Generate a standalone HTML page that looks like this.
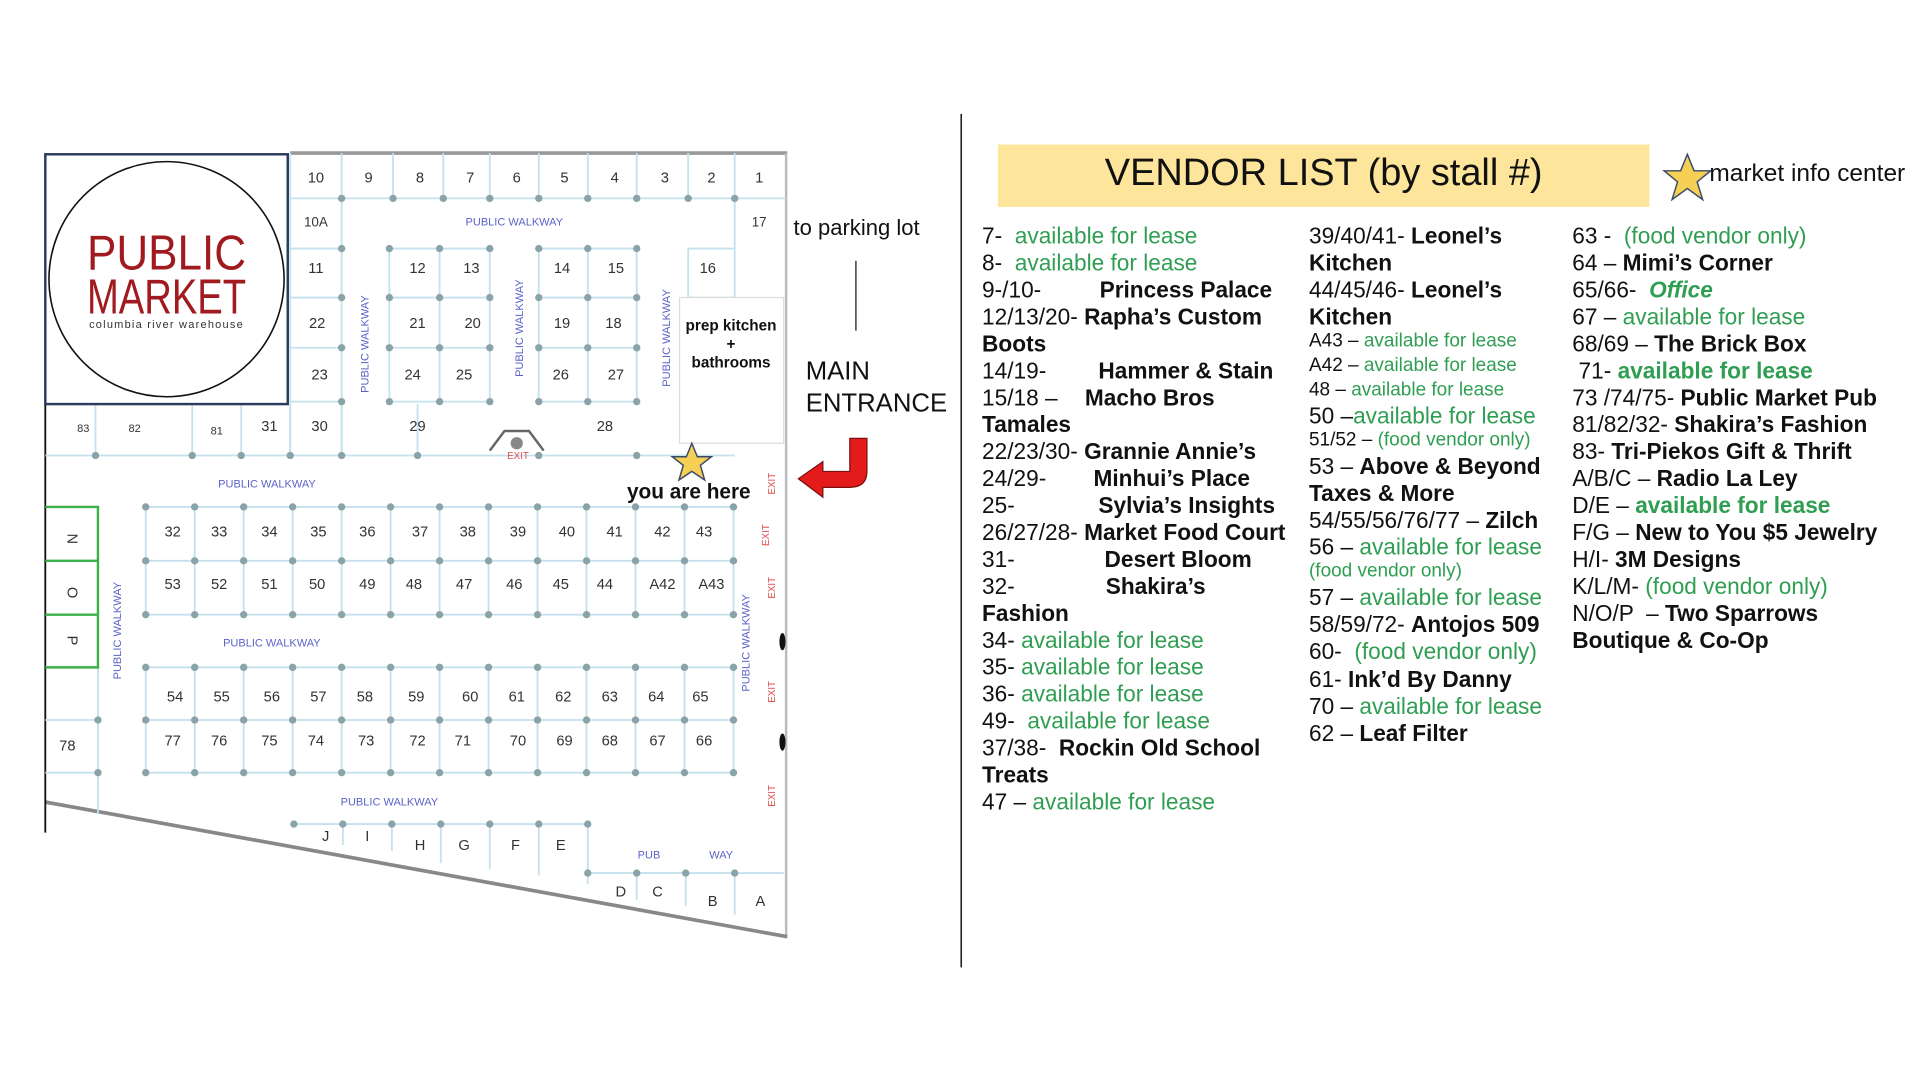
<!DOCTYPE html>
<html><head><meta charset="utf-8"><style>
body{margin:0;width:1920px;height:1080px;overflow:hidden;background:#fff}
#w{position:absolute;left:0;top:0;width:1568px;height:882px;transform:scale(1.22449);transform-origin:0 0;font-family:"Liberation Sans",sans-serif}
.t{position:absolute;white-space:pre;font-size:18.5px;line-height:22px;color:#111}
.s{font-size:15.5px}
.g{color:#2f9e52}
b{font-weight:bold}
</style></head><body><div id="w">
<svg width="1568" height="882" style="position:absolute;left:0;top:0" font-family="Liberation Sans, sans-serif">
<!-- outer walls -->
<line x1="237" y1="125" x2="643" y2="125" stroke="#999" stroke-width="3"/>
<line x1="642" y1="125" x2="642" y2="765" stroke="#bbb" stroke-width="2"/>
<line x1="37" y1="655" x2="643" y2="765" stroke="#888" stroke-width="3"/>
<line x1="37" y1="330" x2="37" y2="680" stroke="#111" stroke-width="1.5"/>
<g stroke="#c3e1ee" stroke-width="1.5" fill="none">
<!-- top row -->
<line x1="237" y1="162" x2="642" y2="162"/>
<path d="M279 125V162M321 125V162M362 125V162M400 125V162M440 125V162M480 125V162M520 125V162M562 125V162M600 125V162"/>
<path d="M237 125V372M279 162V372"/>
<path d="M237 203H279M237 243H279M237 284H279M237 328H279"/>
<path d="M318 203H400M318 243H400M318 284H400M318 328H400M318 203V328M359 203V328M400 203V328"/>
<path d="M440 203H520M440 243H520M440 284H520M440 328H520M440 203V328M480 203V328M520 203V328"/>
<path d="M562 203H600M562 243H600M562 203V243M600 162V243"/>
<path d="M37 372H600M78 330V372M157 330V372M197 330V372M237 330V372M279 330V372M341 330V372"/>
<!-- middle blocks -->
<path d="M119 414H599M119 458H599M119 502H599M119 545H599M119 588H599M119 631H599"/>
<path d="M119 414V502M159 414V502M199 414V502M239 414V502M279 414V502M319 414V502M359 414V502M399 414V502M439 414V502M479 414V502M519 414V502M559 414V502M599 414V502"/>
<path d="M119 545V631M159 545V631M199 545V631M239 545V631M279 545V631M319 545V631M359 545V631M399 545V631M439 545V631M479 545V631M519 545V631M559 545V631M599 545V631"/>
<path d="M37 588H80M37 631H80M80 545V665"/>
<path d="M240 673H480M280 673V690M320 673V695M360 673V705M400 673V710M440 673V715M480 673V722M480 713H640M520 713V735M560 713V740M600 713V747"/>
</g>
<g fill="#8aa3a8">
<circle cx="279" cy="162" r="3"/><circle cx="321" cy="162" r="3"/><circle cx="362" cy="162" r="3"/><circle cx="400" cy="162" r="3"/><circle cx="440" cy="162" r="3"/><circle cx="480" cy="162" r="3"/><circle cx="520" cy="162" r="3"/><circle cx="562" cy="162" r="3"/><circle cx="600" cy="162" r="3"/>
<circle cx="279" cy="203" r="3"/><circle cx="318" cy="203" r="3"/><circle cx="359" cy="203" r="3"/><circle cx="400" cy="203" r="3"/><circle cx="440" cy="203" r="3"/><circle cx="480" cy="203" r="3"/><circle cx="520" cy="203" r="3"/>
<circle cx="279" cy="243" r="3"/><circle cx="318" cy="243" r="3"/><circle cx="359" cy="243" r="3"/><circle cx="400" cy="243" r="3"/><circle cx="440" cy="243" r="3"/><circle cx="480" cy="243" r="3"/><circle cx="520" cy="243" r="3"/>
<circle cx="279" cy="284" r="3"/><circle cx="318" cy="284" r="3"/><circle cx="359" cy="284" r="3"/><circle cx="400" cy="284" r="3"/><circle cx="440" cy="284" r="3"/><circle cx="480" cy="284" r="3"/><circle cx="520" cy="284" r="3"/>
<circle cx="279" cy="328" r="3"/><circle cx="318" cy="328" r="3"/><circle cx="359" cy="328" r="3"/><circle cx="400" cy="328" r="3"/><circle cx="440" cy="328" r="3"/><circle cx="480" cy="328" r="3"/><circle cx="520" cy="328" r="3"/>
<circle cx="78" cy="372" r="3"/><circle cx="157" cy="372" r="3"/><circle cx="197" cy="372" r="3"/><circle cx="237" cy="372" r="3"/><circle cx="279" cy="372" r="3"/><circle cx="341" cy="372" r="3"/><circle cx="440" cy="372" r="3"/><circle cx="520" cy="372" r="3"/>
</g>
<g fill="#8aa3a8" id="dots">
<circle cx="119" cy="414" r="3"/><circle cx="159" cy="414" r="3"/><circle cx="199" cy="414" r="3"/><circle cx="239" cy="414" r="3"/><circle cx="279" cy="414" r="3"/><circle cx="319" cy="414" r="3"/><circle cx="359" cy="414" r="3"/><circle cx="399" cy="414" r="3"/><circle cx="439" cy="414" r="3"/><circle cx="479" cy="414" r="3"/><circle cx="519" cy="414" r="3"/><circle cx="559" cy="414" r="3"/><circle cx="599" cy="414" r="3"/>
<circle cx="119" cy="458" r="3"/><circle cx="159" cy="458" r="3"/><circle cx="199" cy="458" r="3"/><circle cx="239" cy="458" r="3"/><circle cx="279" cy="458" r="3"/><circle cx="319" cy="458" r="3"/><circle cx="359" cy="458" r="3"/><circle cx="399" cy="458" r="3"/><circle cx="439" cy="458" r="3"/><circle cx="479" cy="458" r="3"/><circle cx="519" cy="458" r="3"/><circle cx="559" cy="458" r="3"/><circle cx="599" cy="458" r="3"/>
<circle cx="119" cy="502" r="3"/><circle cx="159" cy="502" r="3"/><circle cx="199" cy="502" r="3"/><circle cx="239" cy="502" r="3"/><circle cx="279" cy="502" r="3"/><circle cx="319" cy="502" r="3"/><circle cx="359" cy="502" r="3"/><circle cx="399" cy="502" r="3"/><circle cx="439" cy="502" r="3"/><circle cx="479" cy="502" r="3"/><circle cx="519" cy="502" r="3"/><circle cx="559" cy="502" r="3"/><circle cx="599" cy="502" r="3"/>
<circle cx="119" cy="545" r="3"/><circle cx="159" cy="545" r="3"/><circle cx="199" cy="545" r="3"/><circle cx="239" cy="545" r="3"/><circle cx="279" cy="545" r="3"/><circle cx="319" cy="545" r="3"/><circle cx="359" cy="545" r="3"/><circle cx="399" cy="545" r="3"/><circle cx="439" cy="545" r="3"/><circle cx="479" cy="545" r="3"/><circle cx="519" cy="545" r="3"/><circle cx="559" cy="545" r="3"/><circle cx="599" cy="545" r="3"/>
<circle cx="119" cy="588" r="3"/><circle cx="159" cy="588" r="3"/><circle cx="199" cy="588" r="3"/><circle cx="239" cy="588" r="3"/><circle cx="279" cy="588" r="3"/><circle cx="319" cy="588" r="3"/><circle cx="359" cy="588" r="3"/><circle cx="399" cy="588" r="3"/><circle cx="439" cy="588" r="3"/><circle cx="479" cy="588" r="3"/><circle cx="519" cy="588" r="3"/><circle cx="559" cy="588" r="3"/><circle cx="599" cy="588" r="3"/>
<circle cx="119" cy="631" r="3"/><circle cx="159" cy="631" r="3"/><circle cx="199" cy="631" r="3"/><circle cx="239" cy="631" r="3"/><circle cx="279" cy="631" r="3"/><circle cx="319" cy="631" r="3"/><circle cx="359" cy="631" r="3"/><circle cx="399" cy="631" r="3"/><circle cx="439" cy="631" r="3"/><circle cx="479" cy="631" r="3"/><circle cx="519" cy="631" r="3"/><circle cx="559" cy="631" r="3"/><circle cx="599" cy="631" r="3"/>
<circle cx="80" cy="588" r="3"/><circle cx="80" cy="631" r="3"/>
<circle cx="240" cy="673" r="3"/><circle cx="280" cy="673" r="3"/><circle cx="320" cy="673" r="3"/><circle cx="360" cy="673" r="3"/><circle cx="400" cy="673" r="3"/><circle cx="440" cy="673" r="3"/><circle cx="480" cy="673" r="3"/>
<circle cx="480" cy="713" r="3"/><circle cx="520" cy="713" r="3"/><circle cx="560" cy="713" r="3"/><circle cx="600" cy="713" r="3"/>
</g>
<!-- green NOP box -->
<path d="M37 414H80V545H37M37 458H80M37 502H80" stroke="#3cb04a" stroke-width="2" fill="none"/>
<!-- prep kitchen -->
<rect x="555" y="243" width="85" height="119" fill="#fff" stroke="#ddd"/>
<!-- logo -->
<rect x="37" y="126" width="198" height="204" fill="#fff" stroke="#2b3b5c" stroke-width="2"/>
<ellipse cx="136" cy="228" rx="96" ry="96" fill="none" stroke="#111" stroke-width="1.3"/>
<text x="136" y="220" text-anchor="middle" font-size="40" fill="#a11a1f" textLength="130" lengthAdjust="spacingAndGlyphs">PUBLIC</text>
<text x="136" y="256" text-anchor="middle" font-size="40" fill="#a11a1f" textLength="130" lengthAdjust="spacingAndGlyphs">MARKET</text>
<text x="136" y="268" text-anchor="middle" font-size="9" fill="#333" letter-spacing="1">columbia river warehouse</text>
<!-- numbers -->
<g font-size="12" fill="#333" text-anchor="middle">
<text x="258" y="149">10</text><text x="301" y="149">9</text><text x="343" y="149">8</text><text x="384" y="149">7</text><text x="422" y="149">6</text><text x="461" y="149">5</text><text x="502" y="149">4</text><text x="543" y="149">3</text><text x="581" y="149">2</text><text x="620" y="149">1</text>
<text x="258" y="185" font-size="11">10A</text><text x="620" y="185" font-size="11">17</text>
<text x="258" y="223">11</text><text x="341" y="223">12</text><text x="385" y="223">13</text><text x="459" y="223">14</text><text x="503" y="223">15</text><text x="578" y="223">16</text>
<text x="259" y="268">22</text><text x="341" y="268">21</text><text x="386" y="268">20</text><text x="459" y="268">19</text><text x="501" y="268">18</text>
<text x="261" y="310">23</text><text x="337" y="310">24</text><text x="379" y="310">25</text><text x="458" y="310">26</text><text x="503" y="310">27</text>
<text x="68" y="353" font-size="9">83</text><text x="110" y="353" font-size="9">82</text><text x="177" y="355" font-size="9">81</text><text x="220" y="352">31</text><text x="261" y="352">30</text><text x="341" y="352">29</text><text x="494" y="352">28</text>
<text x="141" y="438">32</text><text x="179" y="438">33</text><text x="220" y="438">34</text><text x="260" y="438">35</text><text x="300" y="438">36</text><text x="343" y="438">37</text><text x="382" y="438">38</text><text x="423" y="438">39</text><text x="463" y="438">40</text><text x="502" y="438">41</text><text x="541" y="438">42</text><text x="575" y="438">43</text>
<text x="141" y="481">53</text><text x="179" y="481">52</text><text x="220" y="481">51</text><text x="259" y="481">50</text><text x="300" y="481">49</text><text x="338" y="481">48</text><text x="379" y="481">47</text><text x="420" y="481">46</text><text x="458" y="481">45</text><text x="494" y="481">44</text><text x="541" y="481">A42</text><text x="581" y="481">A43</text>
<text x="143" y="573">54</text><text x="181" y="573">55</text><text x="222" y="573">56</text><text x="260" y="573">57</text><text x="298" y="573">58</text><text x="340" y="573">59</text><text x="384" y="573">60</text><text x="422" y="573">61</text><text x="460" y="573">62</text><text x="498" y="573">63</text><text x="536" y="573">64</text><text x="572" y="573">65</text>
<text x="141" y="609">77</text><text x="179" y="609">76</text><text x="220" y="609">75</text><text x="258" y="609">74</text><text x="299" y="609">73</text><text x="341" y="609">72</text><text x="378" y="609">71</text><text x="423" y="609">70</text><text x="461" y="609">69</text><text x="498" y="609">68</text><text x="537" y="609">67</text><text x="575" y="609">66</text>
<text x="55" y="613">78</text>
<text x="59" y="444" transform="rotate(90 59 440)">N</text><text x="59" y="488" transform="rotate(90 59 484)">O</text><text x="59" y="527" transform="rotate(90 59 523)">P</text>
<text x="266" y="687">J</text><text x="300" y="687">I</text><text x="343" y="694">H</text><text x="379" y="694">G</text><text x="421" y="694">F</text><text x="458" y="694">E</text>
<text x="507" y="732">D</text><text x="537" y="732">C</text><text x="582" y="740">B</text><text x="621" y="740">A</text>
</g>
<g font-size="9" fill="#5b63c8" text-anchor="middle">
<text x="420" y="184">PUBLIC WALKWAY</text>
<text x="218" y="398">PUBLIC WALKWAY</text>
<text x="222" y="528">PUBLIC WALKWAY</text>
<text x="318" y="658">PUBLIC WALKWAY</text>
<text x="530" y="701">PUB</text><text x="589" y="701">WAY</text>
<text transform="translate(301 281) rotate(-90)">PUBLIC WALKWAY</text>
<text transform="translate(427 268) rotate(-90)">PUBLIC WALKWAY</text>
<text transform="translate(547 276) rotate(-90)">PUBLIC WALKWAY</text>
<text transform="translate(99 515) rotate(-90)">PUBLIC WALKWAY</text>
<text transform="translate(612 525) rotate(-90)">PUBLIC WALKWAY</text>
</g>
<g font-size="8" fill="#e05050" text-anchor="middle">
<text x="423" y="375">EXIT</text>
<text transform="translate(633 395) rotate(-90)">EXIT</text>
<text transform="translate(628 437) rotate(-90)">EXIT</text>
<text transform="translate(633 480) rotate(-90)">EXIT</text>
<text transform="translate(633 565) rotate(-90)">EXIT</text>
<text transform="translate(633 650) rotate(-90)">EXIT</text>
</g>
<path d="M400 368L412 352H432L444 368" stroke="#666" stroke-width="2" fill="none"/>
<circle cx="422" cy="362" r="5" fill="#888"/>
<ellipse cx="639" cy="524" rx="2.5" ry="7" fill="#111"/><ellipse cx="639" cy="606" rx="2.5" ry="7" fill="#111"/>
<!-- prep kitchen text -->
<g font-size="12.5" font-weight="bold" fill="#111" text-anchor="middle">
<text x="597" y="270">prep kitchen</text><text x="597" y="285">+</text><text x="597" y="300">bathrooms</text>
</g>
<!-- right-side labels -->
<text x="648" y="192" font-size="18" fill="#111">to parking lot</text>
<line x1="699" y1="213" x2="699" y2="270" stroke="#111" stroke-width="1"/>
<text x="658" y="310" font-size="21" fill="#111">MAIN</text>
<text x="658" y="336" font-size="21" fill="#111">ENTRANCE</text>
<path d="M694 358H708V385Q708 398 694 398H672V406L652 391L672 377V385H694Z" fill="#e31b1b" stroke="#7a1010" stroke-width="1"/>
<polygon points="565,362 569.5,373 581,373 572,380 575.5,392 565,385 554.5,392 558,380 549,373 560.5,373" fill="#f5d055" stroke="#3c4a6a" stroke-width="1.2"/>
<text x="512" y="407" font-size="17" font-weight="bold" fill="#111">you are here</text>
<!-- divider -->
<line x1="785" y1="93" x2="785" y2="790" stroke="#222" stroke-width="1.3"/>
<!-- title -->
<rect x="815" y="118" width="532" height="51" fill="#fde59b"/>
<text x="1081" y="151" font-size="31" fill="#111" text-anchor="middle">VENDOR LIST (by stall #)</text>
<polygon points="1378,126 1383.5,139.5 1397,139.5 1386,148.5 1390.5,163 1378,154 1365.5,163 1370,148.5 1359,139.5 1372.5,139.5" fill="#f5d055" stroke="#3c4a6a" stroke-width="1.2"/>
<text x="1396" y="148" font-size="20" fill="#111">market info center</text>
</svg>

<!-- column 1 -->
<div class="t" style="left:802px;top:182px">7-  <span class="g">available for lease</span></div>
<div class="t" style="left:802px;top:204px">8-  <span class="g">available for lease</span></div>
<div class="t" style="left:802px;top:226px">9-/10-</div><div class="t" style="left:898px;top:226px"><b>Princess Palace</b></div>
<div class="t" style="left:802px;top:248px">12/13/20- <b>Rapha’s Custom</b></div>
<div class="t" style="left:802px;top:270px"><b>Boots</b></div>
<div class="t" style="left:802px;top:292px">14/19-</div><div class="t" style="left:897px;top:292px"><b>Hammer &amp; Stain</b></div>
<div class="t" style="left:802px;top:314px">15/18 –</div><div class="t" style="left:886px;top:314px"><b>Macho Bros</b></div>
<div class="t" style="left:802px;top:336px"><b>Tamales</b></div>
<div class="t" style="left:802px;top:358px">22/23/30- <b>Grannie Annie’s</b></div>
<div class="t" style="left:802px;top:380px">24/29-</div><div class="t" style="left:893px;top:380px"><b>Minhui’s Place</b></div>
<div class="t" style="left:802px;top:402px">25-</div><div class="t" style="left:897px;top:402px"><b>Sylvia’s Insights</b></div>
<div class="t" style="left:802px;top:424px">26/27/28- <b>Market Food Court</b></div>
<div class="t" style="left:802px;top:446px">31-</div><div class="t" style="left:902px;top:446px"><b>Desert Bloom</b></div>
<div class="t" style="left:802px;top:468px">32-</div><div class="t" style="left:903px;top:468px"><b>Shakira’s</b></div>
<div class="t" style="left:802px;top:490px"><b>Fashion</b></div>
<div class="t" style="left:802px;top:512px">34- <span class="g">available for lease</span></div>
<div class="t" style="left:802px;top:534px">35- <span class="g">available for lease</span></div>
<div class="t" style="left:802px;top:556px">36- <span class="g">available for lease</span></div>
<div class="t" style="left:802px;top:578px">49-  <span class="g">available for lease</span></div>
<div class="t" style="left:802px;top:600px">37/38-  <b>Rockin Old School</b></div>
<div class="t" style="left:802px;top:622px"><b>Treats</b></div>
<div class="t" style="left:802px;top:644px">47 – <span class="g">available for lease</span></div>
<!-- column 2 -->
<div class="t" style="left:1069px;top:182px">39/40/41- <b>Leonel’s</b></div>
<div class="t" style="left:1069px;top:204px"><b>Kitchen</b></div>
<div class="t" style="left:1069px;top:226px">44/45/46- <b>Leonel’s</b></div>
<div class="t" style="left:1069px;top:248px"><b>Kitchen</b></div>
<div class="t s" style="left:1069px;top:268px">A43 – <span class="g">available for lease</span></div>
<div class="t s" style="left:1069px;top:288px">A42 – <span class="g">available for lease</span></div>
<div class="t s" style="left:1069px;top:308px">48 – <span class="g">available for lease</span></div>
<div class="t" style="left:1069px;top:329px">50 –<span class="g">available for lease</span></div>
<div class="t s" style="left:1069px;top:349px">51/52 – <span class="g">(food vendor only)</span></div>
<div class="t" style="left:1069px;top:370px">53 – <b>Above &amp; Beyond</b></div>
<div class="t" style="left:1069px;top:392px"><b>Taxes &amp; More</b></div>
<div class="t" style="left:1069px;top:414px">54/55/56/76/77 – <b>Zilch</b></div>
<div class="t" style="left:1069px;top:436px">56 – <span class="g">available for lease</span></div>
<div class="t s g" style="left:1069px;top:456px">(food vendor only)</div>
<div class="t" style="left:1069px;top:477px">57 – <span class="g">available for lease</span></div>
<div class="t" style="left:1069px;top:499px">58/59/72- <b>Antojos 509</b></div>
<div class="t" style="left:1069px;top:521px">60-  <span class="g">(food vendor only)</span></div>
<div class="t" style="left:1069px;top:544px">61- <b>Ink’d By Danny</b></div>
<div class="t" style="left:1069px;top:566px">70 – <span class="g">available for lease</span></div>
<div class="t" style="left:1069px;top:588px">62 – <b>Leaf Filter</b></div>
<!-- column 3 -->
<div class="t" style="left:1284px;top:182px">63 -  <span class="g">(food vendor only)</span></div>
<div class="t" style="left:1284px;top:204px">64 – <b>Mimi’s Corner</b></div>
<div class="t" style="left:1284px;top:226px">65/66-  <b class="g"><i>Office</i></b></div>
<div class="t" style="left:1284px;top:248px">67 – <span class="g">available for lease</span></div>
<div class="t" style="left:1284px;top:270px">68/69 – <b>The Brick Box</b></div>
<div class="t" style="left:1284px;top:292px"> 71- <b class="g">available for lease</b></div>
<div class="t" style="left:1284px;top:314px">73 /74/75- <b>Public Market Pub</b></div>
<div class="t" style="left:1284px;top:336px">81/82/32- <b>Shakira’s Fashion</b></div>
<div class="t" style="left:1284px;top:358px">83- <b>Tri-Piekos Gift &amp; Thrift</b></div>
<div class="t" style="left:1284px;top:380px">A/B/C – <b>Radio La Ley</b></div>
<div class="t" style="left:1284px;top:402px">D/E – <b class="g">available for lease</b></div>
<div class="t" style="left:1284px;top:424px">F/G – <b>New to You $5 Jewelry</b></div>
<div class="t" style="left:1284px;top:446px">H/I- <b>3M Designs</b></div>
<div class="t" style="left:1284px;top:468px">K/L/M- <span class="g">(food vendor only)</span></div>
<div class="t" style="left:1284px;top:490px">N/O/P  – <b>Two Sparrows</b></div>
<div class="t" style="left:1284px;top:512px"><b>Boutique &amp; Co-Op</b></div>
</div></body></html>
